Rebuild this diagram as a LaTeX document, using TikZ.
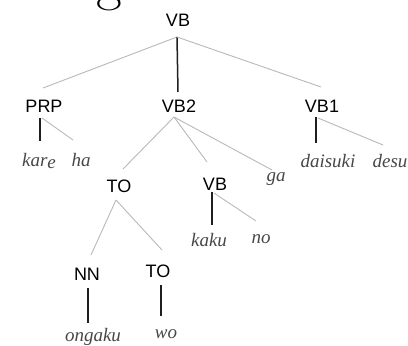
\documentclass[tikz,border=0pt]{standalone}
\usepackage{fontspec}
\setsansfont{Liberation Sans}
\newfontfamily\wordfont{Liberation Serif}
\begin{document}
\begin{tikzpicture}[x=1pt,y=-1pt,
  tag/.style={font=\fontsize{18}{18}\sffamily, inner sep=0pt, text height=12.9pt, text depth=0pt, anchor=center},
  word/.style={font=\fontsize{19}{19}\wordfont\itshape, text=black!72, inner sep=0pt, anchor=base},
  gl/.style={draw=black!28, line width=0.9pt},
  bl/.style={draw=black!88, line width=1.5pt}]
\useasboundingbox (0,0) rectangle (408,346);
\clip (0,0) rectangle (408,346);
% tail of a large glyph from the line above
\node[font=\fontsize{56}{56}\rmfamily, inner sep=0pt, anchor=base] (bigg) at (109,-1) {g};
% category labels
\node[tag] (vb)   at (178,20)  {VB};
\node[tag] (prp)  at (44,106)  {PRP};
\node[tag] (vbii) at (179,106) {VB2};
\node[tag] (vbi)  at (322,106) {VB1};
\node[tag] (to)   at (119,186) {TO};
\node[tag] (vbb)  at (215,184) {VB};
\node[tag] (nn)   at (87,274)  {NN};
\node[tag] (tob)  at (158,271) {TO};
% words
\node[word] (kare)    at (39,166)  {kar\raisebox{-2.5pt}{e}};
\node[word] (ha)      at (81,166)  {ha};
\node[word] (ga)      at (276,181) {ga};
\node[word] (daisuki) at (328,167) {daisuki};
\node[word] (desu)    at (390,167) {desu};
\node[word] (kaku)    at (209,246) {kaku};
\node[word] (no)      at (261,243) {no};
\node[word] (ongaku)  at (93,341)  {ongaku};
\node[word] (wo)      at (166,338) {wo};
% branches
\draw[gl] ([shift={(-1,17)}]vb.center) -- ([shift={(-1,-18)}]prp.center);
\draw[bl] ([shift={(-1,17)}]vb.center) -- ([shift={(-1,-14)}]vbii.center);
\draw[gl] ([shift={(-1,17)}]vb.center) -- ([shift={(-1,-19)}]vbi.center);
\draw[bl] ([shift={(-4,12)}]prp.center) -- ([shift={(1,-25)}]kare.base);
\draw[gl] ([shift={(-2,12)}]prp.center) -- ([shift={(-8,-26)}]ha.base);
\draw[gl] ([shift={(-5,11)}]vbii.center) -- ([shift={(4,-17)}]to.center);
\draw[gl] ([shift={(-5,11)}]vbii.center) -- ([shift={(-8,-22)}]vbb.center);
\draw[gl] ([shift={(-5,11)}]vbii.center) -- ([shift={(-4,-11)}]ga.base);
\draw[bl] ([shift={(-6,11)}]vbi.center) -- ([shift={(-12,-24)}]daisuki.base);
\draw[gl] ([shift={(-4,12)}]vbi.center) -- ([shift={(-7,-22)}]desu.base);
\draw[gl] ([shift={(-3,14)}]to.center) -- ([shift={(4,-19)}]nn.center);
\draw[gl] ([shift={(-3,14)}]to.center) -- ([shift={(4,-21)}]tob.center);
\draw[bl] ([shift={(-3,8)}]vbb.center) -- ([shift={(3,-21)}]kaku.base);
\draw[gl] ([shift={(-1,9)}]vbb.center) -- ([shift={(-5,-22)}]no.base);
\draw[bl] ([shift={(1,14)}]nn.center) -- ([shift={(-5,-18)}]ongaku.base);
\draw[bl] ([shift={(3,14)}]tob.center) -- ([shift={(-5,-22)}]wo.base);
\end{tikzpicture}
\end{document}
